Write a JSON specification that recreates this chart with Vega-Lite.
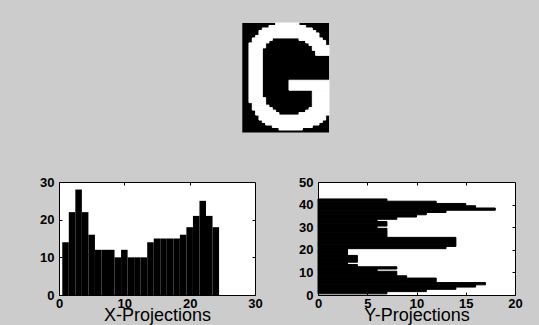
{
  "$schema": "https://vega.github.io/schema/vega-lite/v6.json",
  "background": "#cccccc",
  "padding": {"left": 28, "top": 22, "right": 25, "bottom": 0},
  "spacing": 42,
  "config": {
    "font": "Liberation Sans",
    "axis": {
      "labelFont": "Liberation Sans",
      "labelFontSize": 13,
      "labelFontWeight": "bold",
      "labelColor": "black",
      "labelFlush": false,
      "tickColor": "black",
      "tickSize": -3,
      "labelPadding": 5,
      "domain": false,
      "grid": false,
      "titleFont": "Liberation Sans",
      "titleFontSize": 18,
      "titleFontWeight": "normal",
      "titleColor": "black"
    }
  },
  "datasets": {
    "frame": [{"c0": 0, "c1": 26, "r0": 0, "r1": 44}],
    "glyph": [
      {"r0": 0, "r1": 1, "c0": 10, "c1": 17},
      {"r0": 1, "r1": 2, "c0": 8, "c1": 19},
      {"r0": 2, "r1": 3, "c0": 6, "c1": 21},
      {"r0": 3, "r1": 4, "c0": 5, "c1": 22},
      {"r0": 4, "r1": 5, "c0": 5, "c1": 23},
      {"r0": 5, "r1": 6, "c0": 4, "c1": 23},
      {"r0": 6, "r1": 7, "c0": 3, "c1": 9},
      {"r0": 6, "r1": 7, "c0": 17, "c1": 24},
      {"r0": 7, "r1": 8, "c0": 3, "c1": 8},
      {"r0": 7, "r1": 8, "c0": 19, "c1": 25},
      {"r0": 8, "r1": 10, "c0": 2, "c1": 7},
      {"r0": 8, "r1": 9, "c0": 20, "c1": 25},
      {"r0": 9, "r1": 11, "c0": 21, "c1": 26},
      {"r0": 10, "r1": 30, "c0": 2, "c1": 6},
      {"r0": 11, "r1": 13, "c0": 22, "c1": 26},
      {"r0": 23, "r1": 27, "c0": 14, "c1": 26},
      {"r0": 27, "r1": 34, "c0": 21, "c1": 26},
      {"r0": 30, "r1": 32, "c0": 2, "c1": 7},
      {"r0": 32, "r1": 33, "c0": 3, "c1": 7},
      {"r0": 33, "r1": 34, "c0": 3, "c1": 8},
      {"r0": 34, "r1": 35, "c0": 3, "c1": 9},
      {"r0": 34, "r1": 35, "c0": 20, "c1": 26},
      {"r0": 35, "r1": 36, "c0": 4, "c1": 10},
      {"r0": 35, "r1": 36, "c0": 19, "c1": 26},
      {"r0": 36, "r1": 37, "c0": 4, "c1": 11},
      {"r0": 36, "r1": 37, "c0": 17, "c1": 26},
      {"r0": 37, "r1": 39, "c0": 5, "c1": 25},
      {"r0": 39, "r1": 40, "c0": 6, "c1": 24},
      {"r0": 40, "r1": 41, "c0": 7, "c1": 23},
      {"r0": 41, "r1": 42, "c0": 9, "c1": 21},
      {"r0": 42, "r1": 43, "c0": 11, "c1": 18}
    ],
    "xproj": [
      {"lo": 0.5, "hi": 1.5, "count": 14},
      {"lo": 1.5, "hi": 2.5, "count": 22},
      {"lo": 2.5, "hi": 3.5, "count": 28},
      {"lo": 3.5, "hi": 4.5, "count": 22},
      {"lo": 4.5, "hi": 5.5, "count": 16},
      {"lo": 5.5, "hi": 6.5, "count": 12},
      {"lo": 6.5, "hi": 7.5, "count": 12},
      {"lo": 7.5, "hi": 8.5, "count": 12},
      {"lo": 8.5, "hi": 9.5, "count": 10},
      {"lo": 9.5, "hi": 10.5, "count": 12},
      {"lo": 10.5, "hi": 11.5, "count": 10},
      {"lo": 11.5, "hi": 12.5, "count": 10},
      {"lo": 12.5, "hi": 13.5, "count": 10},
      {"lo": 13.5, "hi": 14.5, "count": 14},
      {"lo": 14.5, "hi": 15.5, "count": 15},
      {"lo": 15.5, "hi": 16.5, "count": 15},
      {"lo": 16.5, "hi": 17.5, "count": 15},
      {"lo": 17.5, "hi": 18.5, "count": 15},
      {"lo": 18.5, "hi": 19.5, "count": 16},
      {"lo": 19.5, "hi": 20.5, "count": 18},
      {"lo": 20.5, "hi": 21.5, "count": 21},
      {"lo": 21.5, "hi": 22.5, "count": 25},
      {"lo": 22.5, "hi": 23.5, "count": 21},
      {"lo": 23.5, "hi": 24.5, "count": 18}
    ],
    "yproj": [
      {"lo": 0.5, "hi": 1.5, "count": 7},
      {"lo": 1.5, "hi": 2.5, "count": 11},
      {"lo": 2.5, "hi": 3.5, "count": 14},
      {"lo": 3.5, "hi": 4.5, "count": 16},
      {"lo": 4.5, "hi": 5.5, "count": 17},
      {"lo": 5.5, "hi": 6.5, "count": 12},
      {"lo": 6.5, "hi": 7.5, "count": 12},
      {"lo": 7.5, "hi": 8.5, "count": 9},
      {"lo": 8.5, "hi": 9.5, "count": 8},
      {"lo": 9.5, "hi": 10.5, "count": 8},
      {"lo": 10.5, "hi": 11.5, "count": 6},
      {"lo": 11.5, "hi": 12.5, "count": 8},
      {"lo": 12.5, "hi": 13.5, "count": 4},
      {"lo": 13.5, "hi": 14.5, "count": 3},
      {"lo": 14.5, "hi": 15.5, "count": 4},
      {"lo": 15.5, "hi": 16.5, "count": 4},
      {"lo": 16.5, "hi": 17.5, "count": 4},
      {"lo": 17.5, "hi": 18.5, "count": 3},
      {"lo": 18.5, "hi": 19.5, "count": 3},
      {"lo": 19.5, "hi": 20.5, "count": 3},
      {"lo": 20.5, "hi": 21.5, "count": 13},
      {"lo": 21.5, "hi": 22.5, "count": 14},
      {"lo": 22.5, "hi": 23.5, "count": 14},
      {"lo": 23.5, "hi": 24.5, "count": 14},
      {"lo": 24.5, "hi": 25.5, "count": 14},
      {"lo": 25.5, "hi": 26.5, "count": 7},
      {"lo": 26.5, "hi": 27.5, "count": 7},
      {"lo": 27.5, "hi": 28.5, "count": 7},
      {"lo": 28.5, "hi": 29.5, "count": 7},
      {"lo": 29.5, "hi": 30.5, "count": 6},
      {"lo": 30.5, "hi": 31.5, "count": 7},
      {"lo": 31.5, "hi": 32.5, "count": 7},
      {"lo": 32.5, "hi": 33.5, "count": 6},
      {"lo": 33.5, "hi": 34.5, "count": 8},
      {"lo": 34.5, "hi": 35.5, "count": 10},
      {"lo": 35.5, "hi": 36.5, "count": 11},
      {"lo": 36.5, "hi": 37.5, "count": 13},
      {"lo": 37.5, "hi": 38.5, "count": 18},
      {"lo": 38.5, "hi": 39.5, "count": 16},
      {"lo": 39.5, "hi": 40.5, "count": 15},
      {"lo": 40.5, "hi": 41.5, "count": 12},
      {"lo": 41.5, "hi": 42.5, "count": 7}
    ]
  },
  "vconcat": [
    {
      "width": 454,
      "height": 109.5,
      "view": {"stroke": null},
      "encoding": {
        "x": {"field": "c0", "type": "quantitative", "axis": null,
              "scale": {"domain": [-54.96, 81.17], "nice": false, "zero": false}},
        "x2": {"field": "c1"},
        "y": {"field": "r0", "type": "quantitative", "axis": null,
              "scale": {"domain": [0, 44], "reverse": true, "nice": false, "zero": false}},
        "y2": {"field": "r1"}
      },
      "layer": [
        {"data": {"name": "frame"}, "mark": {"type": "rect", "color": "black"}},
        {"data": {"name": "glyph"}, "mark": {"type": "rect", "color": "white", "stroke": "white", "strokeWidth": 1}}
      ]
    },
    {
      "spacing": 32,
      "hconcat": [
        {
          "width": 196,
          "height": 113,
          "view": {"fill": "white", "stroke": "black", "strokeWidth": 1},
          "data": {"name": "xproj"},
          "encoding": {
            "x": {"field": "lo", "type": "quantitative",
                  "scale": {"domain": [0, 30], "nice": false}},
            "x2": {"field": "hi"},
            "y": {"field": "count", "type": "quantitative",
                  "scale": {"domain": [0, 30], "nice": false}},
            "y2": {"datum": 0}
          },
          "layer": [
            {
              "mark": {"type": "bar", "color": "black"},
              "encoding": {
                "x": {"field": "lo", "type": "quantitative",
                      "axis": {"values": [0, 10, 20, 30], "title": "X-Projections", "titlePadding": -4}},
                "y": {"field": "count", "type": "quantitative",
                      "axis": {"values": [0, 10, 20, 30], "title": null, "minExtent": 30, "labelPadding": 8}}
              }
            },
            {
              "mark": {"type": "bar", "color": "black", "opacity": 0},
              "encoding": {
                "x": {"field": "lo", "type": "quantitative",
                      "axis": {"orient": "top", "values": [10, 20], "labels": false, "title": null, "minExtent": 0}},
                "y": {"field": "count", "type": "quantitative",
                      "axis": {"orient": "right", "values": [10, 20], "labels": false, "title": null, "minExtent": 0}}
              }
            }
          ],
          "resolve": {"axis": {"x": "independent", "y": "independent"}}
        },
        {
          "width": 197,
          "height": 113,
          "view": {"fill": "white", "stroke": "black", "strokeWidth": 1},
          "data": {"name": "yproj"},
          "encoding": {
            "y": {"field": "lo", "type": "quantitative",
                  "scale": {"domain": [0, 50], "nice": false}},
            "y2": {"field": "hi"},
            "x": {"field": "count", "type": "quantitative",
                  "scale": {"domain": [0, 20], "nice": false}},
            "x2": {"datum": 0}
          },
          "layer": [
            {
              "mark": {"type": "bar", "color": "black", "stroke": "black", "strokeWidth": 1},
              "encoding": {
                "y": {"field": "lo", "type": "quantitative",
                      "axis": {"values": [0, 10, 20, 30, 40, 50], "title": null, "minExtent": 22, "labelPadding": 8}},
                "x": {"field": "count", "type": "quantitative",
                      "axis": {"values": [0, 5, 10, 15, 20], "title": "Y-Projections", "titlePadding": -4}}
              }
            },
            {
              "mark": {"type": "bar", "color": "black", "opacity": 0},
              "encoding": {
                "y": {"field": "lo", "type": "quantitative",
                      "axis": {"orient": "right", "values": [10, 20, 30, 40], "labels": false, "title": null, "minExtent": 0}},
                "x": {"field": "count", "type": "quantitative",
                      "axis": {"orient": "top", "values": [5, 10, 15], "labels": false, "title": null, "minExtent": 0}}
              }
            }
          ],
          "resolve": {"axis": {"x": "independent", "y": "independent"}}
        }
      ]
    }
  ]
}
